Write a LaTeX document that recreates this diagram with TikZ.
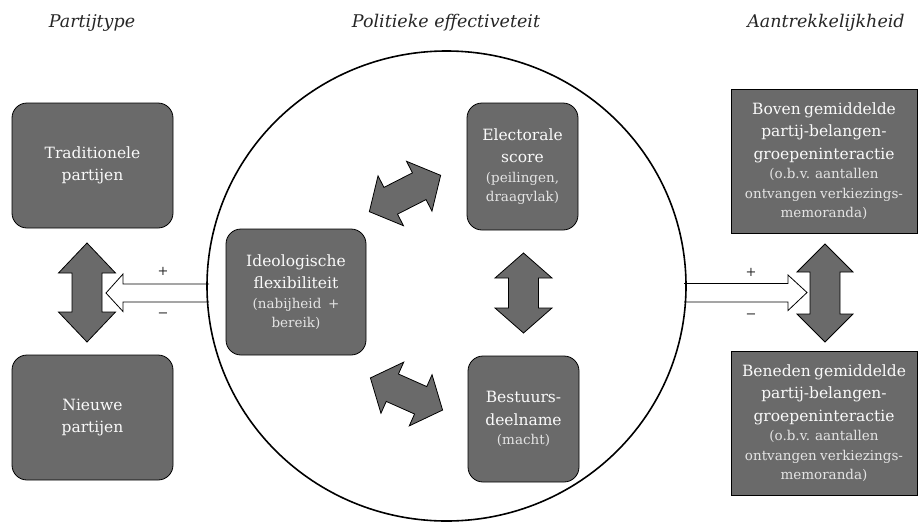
\documentclass[tikz,border=0pt]{standalone}
\usepackage{fontspec}
\setmainfont{DejaVu Serif}
\usetikzlibrary{shapes.geometric}
\definecolor{boxgray}{RGB}{106,106,106}
\definecolor{txtmain}{RGB}{250,250,250}
\definecolor{txtsmall}{RGB}{228,228,228}
\newcommand{\mybigf}{\fontsize{15.5}{22.5}\selectfont\color{txtmain}}
\newcommand{\mysmallf}{\fontsize{13.5}{19.5}\selectfont\color{txtsmall}}
\newcommand{\myheadf}{\fontsize{17.5}{21}\selectfont\itshape}
% center x, center y, angle, length, head length, head half width, shaft half width
\newcommand{\dblarr}[7]{%
  \begin{scope}[shift={(#1,#2)}, rotate=#3]
    \draw[arrowshape] ({-#4/2},0) -- ({-#4/2+#5},{#6}) -- ({-#4/2+#5},{#7})
      -- ({#4/2-#5},{#7}) -- ({#4/2-#5},{#6}) -- ({#4/2},0)
      -- ({#4/2-#5},{-#6}) -- ({#4/2-#5},{-#7}) -- ({-#4/2+#5},{-#7})
      -- ({-#4/2+#5},{-#6}) -- cycle;
  \end{scope}}
\begin{document}
\begin{tikzpicture}[x=1pt,y=-1pt,
  boxbase/.style={draw=black, line width=0.8pt, fill=boxgray, inner sep=0pt, align=center},
  rbox/.style={boxbase, rounded corners=15pt},
  sbox/.style={boxbase},
  arrowshape/.style={draw=black, line width=0.8pt, fill=boxgray, line join=miter},
  hollow/.style={draw=black, line width=0.8pt, fill=white, line join=miter},
  hdr/.style={anchor=base, font=\myheadf, text=black!85},
  sign/.style={font=\fontsize{13}{15}\selectfont, text=black!85}]
\useasboundingbox (0,0) rectangle (918,528);

% headers
\node[hdr] (h1) at (92,27) {Partijtype};
\node[hdr] (h2) at (446,27) {Politieke effectiveteit};
\node[hdr] (h3) at (826,27) {Aantrekkelijkheid};

% hollow arrows (drawn under circle)
\draw[hollow] (209,284) -- (123,284) -- (123,274) -- (106,293) -- (123,311.5) -- (123,302) -- (209,302);
\draw[hollow] (684,283.5) -- (788,283.5) -- (788,275) -- (807,292.5) -- (788,310.5) -- (788,302) -- (684,302);

% circle
\node[draw=black, line width=1.6pt, ellipse, minimum width=479pt, minimum height=470pt, inner sep=0pt] (circ) at (446.5,286) {};

% left boxes
\node[rbox, minimum width=161pt, minimum height=125pt, text width=150pt] (trad) at (92.5,165.5)
  {\mybigf Traditionele\\partijen\par};
\node[rbox, minimum width=161pt, minimum height=125pt, text width=150pt] (nieuw) at (92.5,417.5)
  {\mybigf Nieuwe\\partijen\par};

% center boxes
\node[rbox, minimum width=140pt, minimum height=126pt, text width=134pt] (ideo) at (296,292)
  {\mybigf Ideologische\\flexibiliteit\par\mysmallf (nabijheid\ \ +\\bereik)\par};
\node[rbox, minimum width=111pt, minimum height=127pt, text width=108pt] (elect) at (522.5,166.5)
  {\mybigf Electorale\\score\par\mysmallf (peilingen,\\draagvlak)\par};
\node[rbox, minimum width=111pt, minimum height=126pt, text width=108pt] (bestuur) at (523.5,419)
  {\mybigf Bestuurs-\\deelname\par\mysmallf (macht)\par};

% right boxes
\node[sbox, minimum width=186pt, minimum height=144pt, text width=182pt] (boven) at (824,161)
  {\mybigf Boven gemiddelde\\partij-belangen-\\groepeninteractie\par\mysmallf (o.b.v. aantallen\\ontvangen verkiezings-\\memoranda)\par};
\node[sbox, minimum width=186pt, minimum height=144pt, text width=182pt] (beneden) at (824,423)
  {\mybigf Beneden gemiddelde\\partij-belangen-\\groepeninteractie\par\mysmallf (o.b.v. aantallen\\ontvangen verkiezings-\\memoranda)\par};

% double arrows
\dblarr{87}{292.5}{90}{99}{30}{28.5}{15}
\dblarr{523.5}{293}{90}{80}{25}{28.5}{15}
\dblarr{825}{293}{90}{98}{28}{28}{15}
\dblarr{405}{193.5}{27}{80}{24}{28}{15}
\dblarr{406.5}{394}{-24}{79}{24}{28}{15}

% signs
\node[sign] (lp) at (163,271) {+};
\node[sign] (lm) at (163,315) {−};
\node[sign] (rp) at (751,272) {+};
\node[sign] (rm) at (751,316) {−};
\end{tikzpicture}
\end{document}
